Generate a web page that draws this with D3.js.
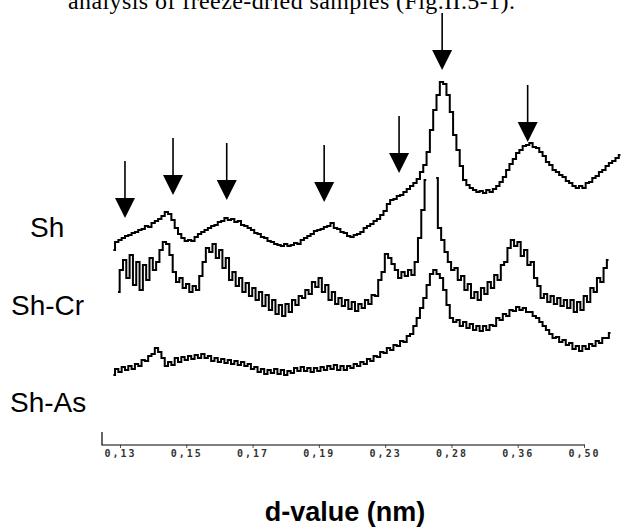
<html>
  <head>
    <meta charset="utf-8">
    <title>d-value traces</title>
    <style>
    body{
      margin: 0;
      background-color: #fff;
    }
    svg{
      display: block;
    }
    </style>
    <script src="https://d3js.org/d3.v7.min.js"></script>
  </head>
  <body>
    <div id="container"></div>
    <script>
    //size of the svg
    const width = 631,
          height = 528;

    //text cut off at the top of the page
    var titleText = "analysis of freeze-dried samples (Fig.II.5-1).";

    //labels under the axis (d-value in nm), evenly spaced
    var tickLabels = ["0,13", "0,15", "0,17", "0,19", "0,23", "0,28", "0,36", "0,50"];

    //names of the three samples
    var sampleNames = ["Sh", "Sh-Cr", "Sh-As"];

    //traces: one intensity every 0.05 tick step
    var stepSize = 0.05;
    var shStart = -0.1, crStart = -0.03, asStart = -0.1;

    var shValues = [195,203,205,207,209,210,212,213,215,216,
      219,218,222,224,226,229,233,231,225,217,
      211,207,204,205,204,208,211,213,215,217,
      219,220,223,224,227,225,226,223,224,220,
      219,217,215,212,211,208,207,204,203,201,
      200,199,201,199,200,202,201,205,207,209,
      211,214,215,216,218,219,222,217,216,213,
      212,209,208,210,211,213,217,219,221,224,
      226,230,234,241,245,246,249,250,253,256,
      259,262,266,273,280,293,315,335,350,363,
      361,350,333,310,295,279,265,260,257,255,
      253,254,252,255,253,256,259,263,268,275,
      281,286,292,295,299,300,302,298,297,293,
      289,283,280,275,273,270,268,264,262,259,
      257,259,257,262,263,267,269,273,275,279,
      282,284,287,290];

    //null = top of the big peak is missing in the picture
    var crValues = [153,175,185,167,190,160,183,155,180,165,
      187,175,183,195,203,201,190,173,163,167,
      157,161,153,159,155,169,183,197,193,201,
      187,195,177,187,165,173,159,167,153,162,
      149,157,145,153,139,150,135,145,131,140,
      129,141,133,145,140,149,147,155,151,163,
      158,167,153,160,145,153,141,147,139,145,
      136,143,134,141,137,145,141,150,149,165,
      173,191,187,181,175,167,173,169,175,170,
      183,207,235,265,null,null,267,217,205,193,
      183,175,177,165,169,155,161,147,153,145,
      157,151,163,157,170,165,180,183,197,205,
      199,203,189,195,180,183,167,159,147,151,
      143,149,141,147,139,145,137,145,133,143,
      135,149,143,157,153,167,163,177,185];

    var asValues = [70,76,73,78,75,79,76,81,79,85,
      84,89,91,97,93,87,79,83,80,87,
      83,88,85,89,86,90,87,91,87,89,
      84,87,83,86,82,85,81,84,80,83,
      79,81,76,78,73,76,71,75,72,76,
      71,75,70,74,72,77,74,78,74,77,
      73,77,74,78,75,79,76,80,75,79,
      75,79,77,81,79,83,81,86,84,89,
      88,93,92,97,95,100,99,104,103,109,
      111,119,127,137,147,160,171,175,171,167,
      155,140,127,123,125,119,123,117,121,115,
      119,114,119,115,120,119,127,125,131,129,
      135,134,138,135,137,133,133,129,127,123,
      119,115,111,107,108,103,105,100,102,96,
      99,94,99,96,101,99,104,102,107,107,
      112];

    //arrows over the peaks: place on the axis (tick index) and intensity of the tip
    var arrowPos = [0.075, 0.80, 1.61, 3.08, 4.21, 4.86, 6.15];
    var arrowTip = [227, 250, 245, 243, 272, 375, 303];

    //scales
    var x = d3.scaleLinear().domain([0, 7]).range([120, 584]);
    var y = d3.scaleLinear().domain([0, 400]).range([445, 45]);

    var svg = d3.select("#container")
      .append("svg")
      .attr("width", width)
      .attr("height", height)
      .style("background-color", "#fff");

    //the text line at the top, mostly cut off like in the scan
    svg.append("text")
      .attr("x", 68)
      .attr("y", 9)
      .attr("font-family", "Liberation Serif, Times New Roman, serif")
      .attr("font-size", 24)
      .attr("textLength", 447)
      .text(titleText);

    //turns a list of values into points
    function traceData(start, vals){
      return vals.map(function(v, i){ return {t: start + i * stepSize, v: v}; });
    }

    var line = d3.line()
      .defined(function(d){ return d.v !== null; })
      .x(function(d){ return x(d.t); })
      .y(function(d){ return y(d.v); })
      .curve(d3.curveStep);

    var traces = [traceData(shStart, shValues), traceData(crStart, crValues), traceData(asStart, asValues)];

    svg.selectAll("path.trace")
      .data(traces)
      .enter()
      .append("path")
      .attr("class", "trace")
      .attr("d", line)
      .attr("fill", "none")
      .attr("stroke", "#000")
      .attr("stroke-width", 2)
      .attr("stroke-linejoin", "miter");

    //sample names on the left
    var namePos = [[30, 237], [11, 315], [10, 412]];
    svg.selectAll("text.name")
      .data(sampleNames)
      .enter()
      .append("text")
      .attr("class", "name")
      .attr("x", function(d, i){ return namePos[i][0]; })
      .attr("y", function(d, i){ return namePos[i][1]; })
      .attr("font-family", "Liberation Sans, Arial, sans-serif")
      .attr("font-size", 28)
      .text(function(d){ return d; });

    //arrows
    var arrows = svg.selectAll("g.arrow")
      .data(arrowPos)
      .enter()
      .append("g")
      .attr("class", "arrow")
      .attr("transform", function(d, i){ return "translate(" + x(d) + "," + y(arrowTip[i]) + ")"; });

    arrows.append("line")
      .attr("x1", 0).attr("x2", 0)
      .attr("y1", -57).attr("y2", -18)
      .attr("stroke", "#000")
      .attr("stroke-width", 1.6);

    arrows.append("path")
      .attr("d", "M-10,-20L10,-20L0,0Z")
      .attr("fill", "#000");

    //bottom axis
    var xAxis = d3.axisBottom(x)
      .tickValues(d3.range(tickLabels.length))
      .tickFormat(function(d, i){ return tickLabels[i]; })
      .tickSize(3)
      .tickPadding(2);

    var axisG = svg.append("g")
      .attr("transform", "translate(0,445)")
      .call(xAxis);

    axisG.select(".domain").remove();
    axisG.selectAll(".tick line").attr("stroke", "#555");
    axisG.selectAll(".tick text")
      .attr("font-family", "DejaVu Sans Mono, monospace")
      .attr("font-size", 10)
      .attr("font-weight", "bold")
      .attr("letter-spacing", "2px")
      .attr("fill", "#333");

    //axis line with the little stub on the left
    svg.append("path")
      .attr("d", "M102,432V445H" + (x(7) + 1))
      .attr("fill", "none")
      .attr("stroke", "#000")
      .attr("stroke-width", 1.2);

    //axis title
    svg.append("text")
      .attr("x", 345)
      .attr("y", 521)
      .attr("text-anchor", "middle")
      .attr("font-family", "Liberation Sans, Arial, sans-serif")
      .attr("font-weight", "bold")
      .attr("font-size", 27)
      .text("d-value (nm)");
    </script>
  </body>
</html>
